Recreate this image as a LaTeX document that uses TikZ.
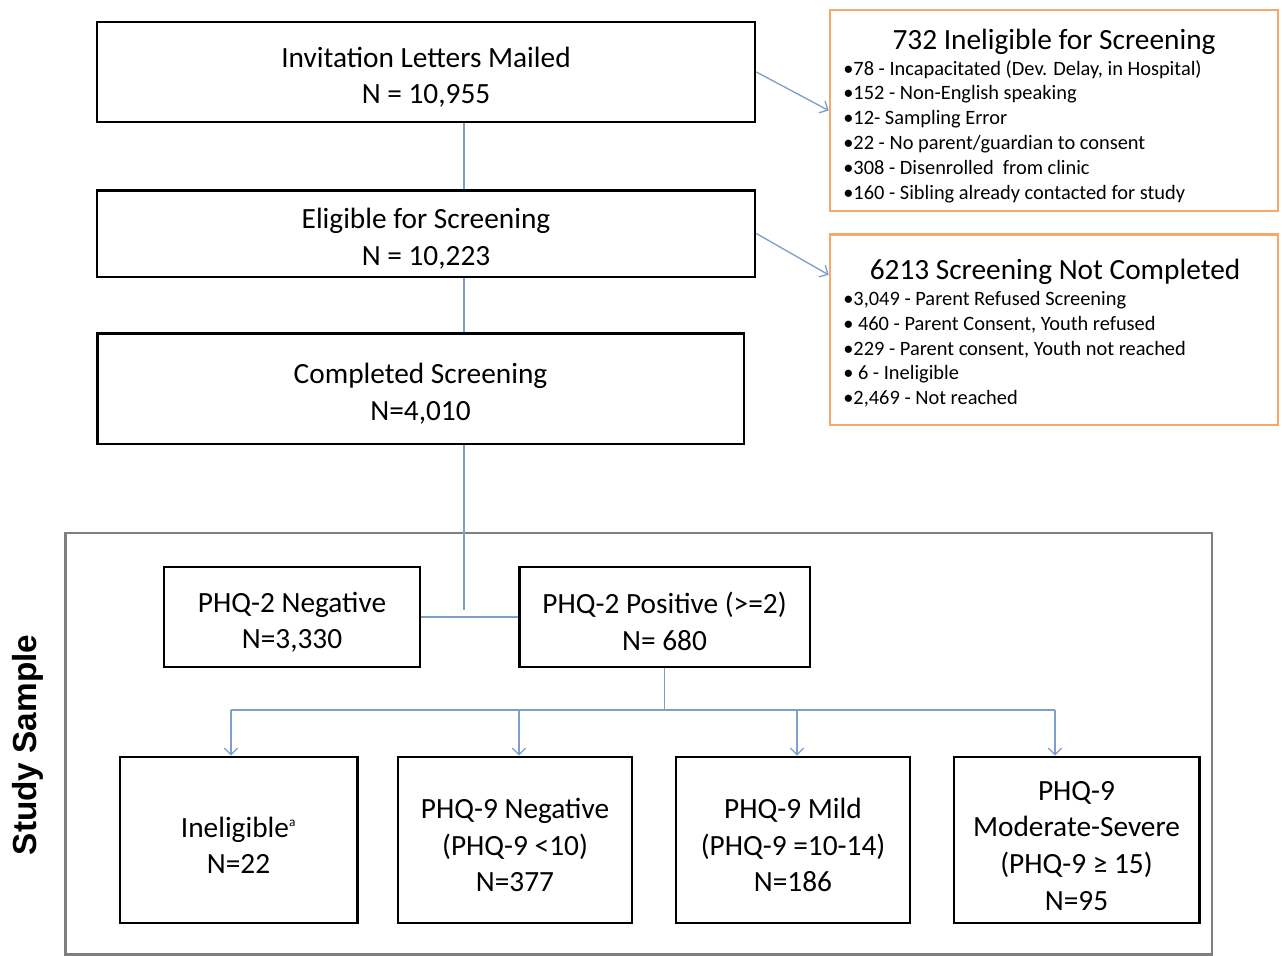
\documentclass[tikz,border=0pt]{standalone}
\usepackage{fontspec}
\setmainfont{Carlito}
\newfontfamily\sidefont{Liberation Sans}
\usetikzlibrary{positioning}
\usetikzlibrary{arrows.meta}
\definecolor{linkblue}{HTML}{7C9FCB}
\definecolor{noteorange}{HTML}{F6A868}
\definecolor{framegray}{HTML}{7F7F7F}
\newcommand{\topgap}{\rule{0pt}{23pt}}
\tikzset{
 stage/.style={
 rectangle,
 draw=black, line width=2pt,
 inner sep=0pt,
 align=center,
 font=\fontsize{22}{27.5}\selectfont},
 note/.style={
 rectangle,
 draw=noteorange, line width=2pt,
 inner sep=0pt},
 notetitle/.style={
 inner sep=0pt,
 font=\fontsize{22}{26}\selectfont},
 notelist/.style={
 inner sep=0pt,
 align=left,
 font=\fontsize{15.3}{18.6}\selectfont},
 link/.style={
 draw=linkblue, line width=1pt}
}

\begin{document}
\begin{tikzpicture}[x=0.75pt,y=-0.75pt]
 \useasboundingbox (0,0) rectangle (1282,956);

 % study sample frame
 \node[draw=framegray, line width=2pt, minimum width=860pt, minimum height=316pt] (sample) at (638.5,743.5) {};
 \node[rotate=90, font=\sidefont\bfseries\fontsize{25}{28}\selectfont] (sidelabel) at (28,745) {Study Sample};

 % main flow
 \node[stage, minimum width=493.5pt, minimum height=75pt] (invite) at (426,72) {\topgap Invitation Letters Mailed\\N = 10,955};
 \node[stage, minimum width=493.5pt, minimum height=65pt] (elig) at (426,233.5) {\topgap Eligible for Screening\\N = 10,223};
 \node[stage, minimum width=485pt, minimum height=83pt] (done) at (420.5,388.5) {\topgap Completed Screening\\N=4,010};

 \node[stage, minimum width=192pt, minimum height=75pt] (negtwo) at (292,617) {\topgap PHQ-2 Negative\\N=3,330};
 \node[stage, minimum width=218pt, minimum height=75pt] (postwo) at (664.5,617) {\topgap PHQ-2 Positive (>=2)\\N= 680};

 \node[stage, minimum width=178pt, minimum height=124.5pt] (inel) at (238.5,840) {\topgap Ineligible\textsuperscript{\fontsize{10}{10}\selectfont a}\\N=22};
 \node[stage, minimum width=175.5pt, minimum height=124.5pt] (negnine) at (515,840) {\topgap PHQ-9 Negative\\(PHQ-9 <10)\\N=377};
 \node[stage, minimum width=175.5pt, minimum height=124.5pt] (mild) at (793,840) {\topgap PHQ-9 Mild\\(PHQ-9 =10-14)\\N=186};
 \node[stage, minimum width=184pt, minimum height=124.5pt] (severe) at (1076.5,840) {\topgap PHQ-9\\Moderate-Severe\\(PHQ-9 ≥ 15)\\N=95};

 % exclusion notes
 \node[note, minimum width=336pt, minimum height=150.75pt] (inelig) at (1054,110.5) {};
 \node[notetitle] (ineligtitle) at (1054,42) {732 Ineligible for Screening};
 \node[notelist, anchor=north west] (ineliglist) at (843,60) {•78 - Incapacitated (Dev. Delay, in Hospital)\\•152 - Non-English speaking\\•12- Sampling Error\\•22 - No parent/guardian to consent\\•308 - Disenrolled\ \ from clinic\\•160 - Sibling already contacted for study};

 \node[note, minimum width=336pt, minimum height=143pt] (notdone) at (1054,329.5) {};
 \node[notetitle] (notdonetitle) at (1055,272) {6213 Screening Not Completed};
 \node[notelist, anchor=north west] (notdonelist) at (843,291) {•3,049 - Parent Refused Screening\\• 460 - Parent Consent, Youth refused\\•229 - Parent consent, Youth not reached\\• 6 - Ineligible\\•2,469 - Not reached};

 % connectors
 \coordinate (spine) at (464,0);
 \coordinate (split) at (464,610);
 \coordinate (forkL) at (231,710);
 \coordinate (forkR) at (1055,710);
 \coordinate (forkA) at (519,710);
 \coordinate (forkB) at (797,710);

 \draw[link] (invite.south -| spine) -- (elig.north -| spine);
 \draw[link] (elig.south -| spine) -- (done.north -| spine);
 \draw[link] (done.south -| spine) -- (split);
 \draw[link] (negtwo.east) -- (postwo.west);
 \draw[link] (postwo.south) -- (postwo.south |- forkL);
 \draw[link] (forkL) -- (forkR);

 \draw[link,->,-{Straight Barb[length=5pt,width=10pt]}] (forkL) -- (inel.north -| forkL);
 \draw[link,->,-{Straight Barb[length=5pt,width=10pt]}] (forkA) -- (negnine.north -| forkA);
 \draw[link,->,-{Straight Barb[length=5pt,width=10pt]}] (forkB) -- (mild.north -| forkB);
 \draw[link,->,-{Straight Barb[length=5pt,width=10pt]}] (forkR) -- (severe.north -| forkR);

 \draw[link,->,-{Straight Barb[length=5pt,width=10pt]}] (invite.east) -- (inelig.west);
 \draw[link,->,-{Straight Barb[length=5pt,width=10pt]}] (elig.east) -- ([yshift=41pt]notdone.west);
\end{tikzpicture}
\end{document}
